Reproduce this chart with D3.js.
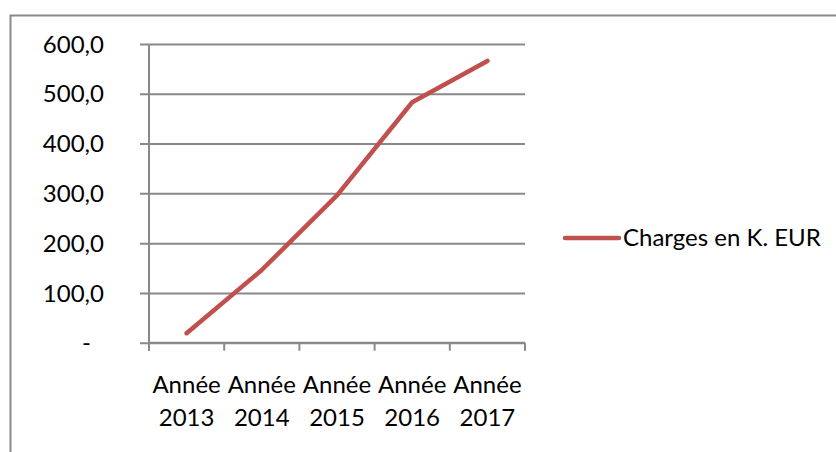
<!DOCTYPE html>
<html>
<head>
<meta charset="utf-8">
<script src="https://cdn.jsdelivr.net/npm/d3@7"></script>
<style>
  body { margin: 0; background: #fff; }
  text { font-family: Lato, "Open Sans", sans-serif; fill: #000; }
</style>
</head>
<body>
<div id="chart"></div>
<script>
// data
const years = ['2013', '2014', '2015', '2016', '2017'];
const categories = years.map(y => 'Année ' + y);
const charges = [19, 146, 296, 483, 566];
const yTicks = [0, 100, 200, 300, 400, 500, 600];
const seriesName = 'Charges en K. EUR';

const W = 836, H = 452;
const plot = { left: 149, right: 525, top: 44, bottom: 342.7 };
const red = '#c0504d', grey = '#898989';
const fontSize = '24px';

const svg = d3.select('#chart').append('svg')
    .attr('width', W)
    .attr('height', H);

// outer chart border (runs off the right/bottom edge like the reference)
svg.append('rect')
    .attr('x', 10.5).attr('y', 15.5)
    .attr('width', W).attr('height', H)
    .attr('fill', 'none')
    .attr('stroke', grey)
    .attr('stroke-width', 2);

const x = d3.scaleBand().domain(categories).range([plot.left, plot.right]);
const y = d3.scaleLinear().domain([0, 600]).range([plot.bottom, plot.top]);

const fmt = d => d === 0 ? '-' : d3.format('.1f')(d).replace('.', ',');

// gridlines + y labels
const yAxis = d3.axisLeft(y)
    .tickValues(yTicks)
    .tickSize(-(plot.right - plot.left))
    .tickFormat(fmt)
    .tickPadding(0);

const gy = svg.append('g')
    .attr('transform', `translate(${plot.left},0)`)
    .call(yAxis);
gy.select('.domain').remove();
gy.selectAll('.tick line')
    .attr('x1', -9)
    .attr('stroke', grey)
    .attr('stroke-width', 2);
gy.selectAll('.tick text')
    .attr('x', -45)
    .attr('dy', '0.34em')
    .style('font-size', fontSize);
gy.selectAll('.tick text').filter(d => d === 0).attr('x', -58);

// vertical axis line
svg.append('line')
    .attr('x1', plot.left).attr('x2', plot.left)
    .attr('y1', plot.top).attr('y2', plot.bottom + 8)
    .attr('stroke', grey).attr('stroke-width', 2);

// x axis with ticks between categories
const edges = categories.map(c => x(c)).concat([plot.right]);
const gx = svg.append('g');
gx.append('line')
    .attr('x1', plot.left).attr('x2', plot.right)
    .attr('y1', plot.bottom).attr('y2', plot.bottom)
    .attr('stroke', grey).attr('stroke-width', 2);
gx.selectAll('line.tk')
    .data(edges)
    .join('line')
    .attr('class', 'tk')
    .attr('x1', d => d).attr('x2', d => d)
    .attr('y1', plot.bottom).attr('y2', plot.bottom + 8)
    .attr('stroke', grey).attr('stroke-width', 2);

const labels = gx.selectAll('text')
    .data(years)
    .join('text')
    .attr('text-anchor', 'middle')
    .style('font-size', fontSize);
labels.append('tspan')
    .attr('x', (d, i) => x(categories[i]) + x.bandwidth() / 2)
    .attr('y', 393)
    .text('Année');
labels.append('tspan')
    .attr('x', (d, i) => x(categories[i]) + x.bandwidth() / 2)
    .attr('y', 426)
    .text(d => d);

// the series line
const line = d3.line()
    .x((d, i) => x(categories[i]) + x.bandwidth() / 2)
    .y(d => y(d));

svg.append('path')
    .datum(charges)
    .attr('d', line)
    .attr('fill', 'none')
    .attr('stroke', red)
    .attr('stroke-width', 4.5)
    .attr('stroke-linecap', 'round')
    .attr('stroke-linejoin', 'round');

// legend
const legend = svg.append('g').attr('transform', 'translate(565,238)');
legend.append('line')
    .attr('x1', 0).attr('x2', 54)
    .attr('stroke', red)
    .attr('stroke-width', 4.5)
    .attr('stroke-linecap', 'round');
legend.append('text')
    .attr('x', 58)
    .attr('dy', '0.35em')
    .style('font-size', fontSize)
    .text(seriesName);
</script>
</body>
</html>
